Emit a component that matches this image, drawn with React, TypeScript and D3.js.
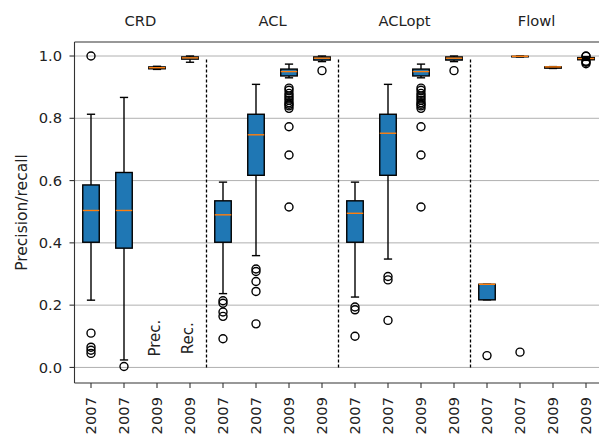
import React from 'react';
import * as d3 from 'd3';

// groups shown across the top
const groups = ['CRD', 'ACL', 'ACLopt', 'Flowl'];
// x tick labels, one per box
const yearLabels = ['2007', '2007', '2009', '2009', '2007', '2007', '2009', '2009',
  '2007', '2007', '2009', '2009', '2007', '2007', '2009', '2009'];

// box stats (one entry per box)
const whiskerLow = [0.216, 0.024, 0.957, 0.980, 0.237, 0.359, 0.930, 0.982,
  0.226, 0.348, 0.930, 0.982, 0.217, 0.997, 0.960, 0.986];
const q1 = [0.402, 0.383, 0.959, 0.990, 0.402, 0.617, 0.936, 0.987,
  0.402, 0.617, 0.936, 0.987, 0.217, 0.998, 0.961, 0.988];
const medians = [0.504, 0.504, 0.9625, 0.994, 0.490, 0.747, 0.950, 0.993,
  0.495, 0.752, 0.950, 0.993, 0.267, 0.999, 0.965, 0.992];
const q3 = [0.586, 0.626, 0.965, 0.997, 0.535, 0.813, 0.958, 0.997,
  0.535, 0.813, 0.958, 0.997, 0.267, 0.999, 0.965, 0.995];
const whiskerHigh = [0.813, 0.867, 0.967, 1.0, 0.595, 0.909, 0.974, 1.0,
  0.595, 0.909, 0.974, 1.0, 0.267, 1.0, 0.966, 0.998];
const outliers = [
  [1.0, 0.110, 0.065, 0.055, 0.045],
  [0.003],
  [],
  [],
  [0.214, 0.206, 0.178, 0.164, 0.092],
  [0.316, 0.308, 0.276, 0.244, 0.140],
  [0.897, 0.89, 0.88, 0.872, 0.865, 0.858, 0.85, 0.845, 0.84, 0.832, 0.773, 0.682, 0.515],
  [0.953],
  [0.194, 0.185, 0.100],
  [0.292, 0.281, 0.151],
  [0.897, 0.89, 0.88, 0.872, 0.865, 0.858, 0.85, 0.845, 0.84, 0.832, 0.773, 0.682, 0.515],
  [0.953],
  [0.038],
  [0.049],
  [],
  [0.975, 0.98, 0.983, 1.0, 0.999],
];
const yTicks = [0, 0.2, 0.4, 0.6, 0.8, 1.0];

const W = 599;
const H = 435;
const font = '"DejaVu Sans", sans-serif';
const fs = 14.7;
const lw = 1.4;

export default function App() {
  const x = d3.scaleLinear().domain([0.5, 16.5]).range([74.5, 602.5]);
  const y = d3.scaleLinear().domain([-0.05, 1.045]).range([383, 42]);
  const left = x(0.5), right = x(16.5), top = y(1.045), bottom = y(-0.05);
  const bw = x(1.25) - x(1); // half box width
  const cw = x(1.125) - x(1); // half cap width

  return (
    <svg width={W} height={H} style={{ position: 'absolute', left: 0, top: 0 }} fontFamily={font}>
      <rect width={W} height={H} fill="white" />
      {/* grid */}
      {yTicks.map(t => (
        <line key={t} x1={left} x2={right} y1={y(t)} y2={y(t)} stroke="#b0b0b0" strokeWidth={1} />
      ))}
      {/* group separators */}
      {[4.5, 8.5, 12.5].map(p => (
        <line key={p} x1={x(p)} x2={x(p)} y1={y(0)} y2={y(0.99)} stroke="black" strokeWidth={1.3} strokeDasharray="3,2" />
      ))}
      {/* boxes */}
      {medians.map((m, i) => {
        const cx = x(i + 1);
        return (
          <g key={i}>
            <line x1={cx} x2={cx} y1={y(whiskerLow[i])} y2={y(q1[i])} stroke="black" strokeWidth={lw} />
            <line x1={cx} x2={cx} y1={y(q3[i])} y2={y(whiskerHigh[i])} stroke="black" strokeWidth={lw} />
            <line x1={cx - cw} x2={cx + cw} y1={y(whiskerLow[i])} y2={y(whiskerLow[i])} stroke="black" strokeWidth={lw} />
            <line x1={cx - cw} x2={cx + cw} y1={y(whiskerHigh[i])} y2={y(whiskerHigh[i])} stroke="black" strokeWidth={lw} />
            <rect x={cx - bw} width={2 * bw} y={y(q3[i])} height={Math.max(y(q1[i]) - y(q3[i]), 0.5)}
              fill="#1f77b4" stroke="black" strokeWidth={lw} />
            <line x1={cx - bw} x2={cx + bw} y1={y(m)} y2={y(m)} stroke="#ff7f0e" strokeWidth={lw} />
            {outliers[i].map((o, j) => (
              <circle key={j} cx={cx} cy={y(o)} r={4} fill="none" stroke="black" strokeWidth={lw} />
            ))}
          </g>
        );
      })}
      {/* spines */}
      <line x1={left} x2={left} y1={top} y2={bottom} stroke="#333" strokeWidth={1.1} />
      <line x1={left} x2={right} y1={top} y2={top} stroke="#333" strokeWidth={1.1} />
      <line x1={left} x2={right} y1={bottom} y2={bottom} stroke="#333" strokeWidth={1.1} />
      {/* y axis */}
      {yTicks.map(t => (
        <g key={t}>
          <line x1={left - 5} x2={left} y1={y(t)} y2={y(t)} stroke="#333" strokeWidth={1.1} />
          <text x={left - 12.5} y={y(t)} dy="0.35em" textAnchor="end" fontSize={fs} fill="#222">{t.toFixed(1)}</text>
        </g>
      ))}
      <text transform={`translate(21.5,${(top + bottom) / 2}) rotate(-90)`} textAnchor="middle" dy="0.35em"
        fontSize={15.5} fill="#222">Precision/recall</text>
      {/* x axis */}
      {yearLabels.map((l, i) => (
        <g key={i}>
          <line x1={x(i + 1)} x2={x(i + 1)} y1={bottom} y2={bottom + 5} stroke="#333" strokeWidth={1.1} />
          <text transform={`translate(${x(i + 1)},${bottom + 14}) rotate(-90)`} textAnchor="end" dy="0.35em"
            fontSize={fs} fill="#222">{l}</text>
        </g>
      ))}
      {/* group titles */}
      {groups.map((g, i) => (
        <text key={g} x={x(i * 4 + 2.5)} y={26} textAnchor="middle" fontSize={fs} fill="#222">{g}</text>
      ))}
      <text transform={`translate(${x(3) - 2},${y(0.094)}) rotate(-90)`} textAnchor="middle" dy="0.35em"
        fontSize={15} fill="#222">Prec.</text>
      <text transform={`translate(${x(4) - 2},${y(0.094)}) rotate(-90)`} textAnchor="middle" dy="0.35em"
        fontSize={15} fill="#222">Rec.</text>
    </svg>
  );
}
